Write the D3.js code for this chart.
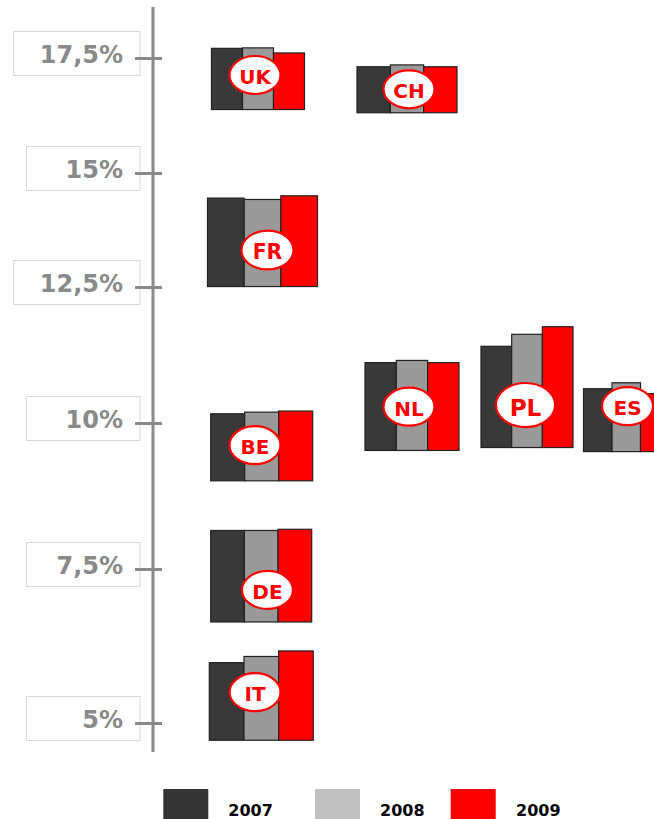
<!DOCTYPE html>
<html>
<head>
<meta charset="utf-8">
<script src="https://cdn.jsdelivr.net/npm/d3@7"></script>
<style>
  html, body { margin: 0; padding: 0; background: #fff; }
  svg { display: block; font-family: "DejaVu Sans", Verdana, sans-serif; }
</style>
</head>
<body>
<svg id="chart" width="654" height="819"></svg>
<script>
// Axis ticks (value in %) and their printed labels
const tickValues = [5, 7.5, 10, 12.5, 15, 17.5];
const tickLabels = ["5%", "7,5%", "10%", "12,5%", "15%", "17,5%"];

// Years and series colours
const years = ["2007", "2008", "2009"];
const barColors = ["#393939", "#999999", "#ff0000"];
const legendColors = ["#343434", "#c0c0c0", "#ff0000"];

// Countries, the value each group of bars rests on, and the yearly values
const countries = ["UK", "CH", "FR", "BE", "DE", "IT", "NL", "PL", "ES"];
const baseValues = [16.38, 16.31, 12.51, 9.01, 6.64, 4.72, 9.53, 9.58, 9.51];
const values2007 = [17.71, 17.31, 14.45, 10.17, 8.16, 5.98, 11.11, 11.41, 10.63];
const values2008 = [17.72, 17.35, 14.42, 10.20, 8.16, 6.08, 11.15, 11.63, 10.74];
const values2009 = [17.61, 17.31, 14.50, 10.22, 8.18, 6.17, 11.11, 11.77, 10.54];

// Placement of each group (left edge, width) and its country badge
const groupLeft = [211.5, 357, 207.5, 210.7, 210.7, 209.3, 365, 481, 583.5];
const groupWidth = [93, 100, 110, 102, 101, 104, 94, 92, 85.5];
const badgeAcross = [0.468, 0.52, 0.545, 0.434, 0.562, 0.44, 0.468, 0.484, 0.515];
const badgeValue = [17.13, 16.82, 13.31, 9.62, 7.16, 5.50, 10.30, 10.33, 10.31];
const badgeScale = [1, 1, 1.02, 1, 1, 1, 1, 1.16, 1];

const svg = d3.select("#chart");

// Piecewise-linear vertical scale: the axis spacing widens toward the bottom
const y = d3.scaleLinear()
  .domain(tickValues)
  .range([723, 569, 423, 287, 173, 58]);

const axisX = 153;
const grey = "#8a8a8a";

// Tick label boxes
const labelG = svg.append("g");
tickValues.forEach((v, i) => {
  const ty = y(v);
  const g = labelG.append("g");
  const rect = g.append("rect")
    .attr("y", ty - 26.5).attr("height", 44)
    .attr("fill", "#fff").attr("stroke", "#d8d8d8").attr("stroke-width", 1);
  const t = g.append("text")
    .attr("x", 123).attr("y", ty + 5)
    .attr("text-anchor", "end")
    .attr("font-size", 24).attr("font-weight", "bold")
    .attr("fill", grey)
    .text(tickLabels[i]);
  const w = t.node().getComputedTextLength();
  const left = Math.min(26.5, 123 - w - 26);
  rect.attr("x", left).attr("width", 140 - left);
});

// Vertical axis line
svg.append("line")
  .attr("x1", axisX).attr("x2", axisX)
  .attr("y1", y(17.5) - 51).attr("y2", y(5) + 29)
  .attr("stroke", grey).attr("stroke-width", 3);

// Tick marks crossing the axis line
const axis = d3.axisLeft(y)
  .tickValues(tickValues)
  .tickSize(27)
  .tickFormat("");
const axisG = svg.append("g")
  .attr("transform", `translate(${axisX + 9},0)`)
  .call(axis);
axisG.select(".domain").remove();
axisG.selectAll(".tick line").attr("stroke", grey).attr("stroke-width", 3);

// Bar groups
const series = [values2007, values2008, values2009];
const groups = countries.map((c, i) => ({
  name: c,
  base: baseValues[i],
  vals: series.map(s => s[i]),
  left: groupLeft[i],
  width: groupWidth[i],
  bx: badgeAcross[i],
  bv: badgeValue[i],
  bs: badgeScale[i]
}));

const gSel = svg.selectAll("g.country")
  .data(groups)
  .join("g")
  .attr("class", "country");

gSel.each(function (d) {
  const g = d3.select(this);
  const x = d3.scaleBand()
    .domain(years)
    .range([d.left, d.left + d.width])
    .padding(0);
  g.selectAll("rect")
    .data(d.vals.map((v, k) => ({ year: years[k], v, k })))
    .join("rect")
    .attr("x", e => x(e.year))
    .attr("width", x.bandwidth())
    .attr("y", e => y(e.v))
    .attr("height", e => y(d.base) - y(e.v))
    .attr("fill", e => barColors[e.k])
    .attr("stroke", "#222")
    .attr("stroke-width", 1.2);

  const cx = d.left + d.bx * d.width;
  const cy = y(d.bv);
  g.append("ellipse")
    .attr("cx", cx).attr("cy", cy)
    .attr("rx", 25.5 * d.bs).attr("ry", 19 * d.bs)
    .attr("fill", "#fff").attr("stroke", "#ff0000").attr("stroke-width", 2.2);
  g.append("text")
    .attr("x", cx).attr("y", cy + 2)
    .attr("text-anchor", "middle")
    .attr("dominant-baseline", "central")
    .attr("font-size", 20 * d.bs).attr("font-weight", "bold")
    .attr("fill", "#ff0000")
    .text(d.name);
});

// Legend
const legendX = [163.3, 315, 450.7];
const legendText = [228.3, 380, 516];
const legend = svg.append("g");
years.forEach((yr, i) => {
  legend.append("rect")
    .attr("x", legendX[i]).attr("y", 789)
    .attr("width", 45).attr("height", 36)
    .attr("fill", legendColors[i]);
  legend.append("text")
    .attr("x", legendText[i]).attr("y", 815.5)
    .attr("font-size", 16).attr("font-weight", "bold")
    .attr("fill", "#000")
    .text(yr);
});
</script>
</body>
</html>
